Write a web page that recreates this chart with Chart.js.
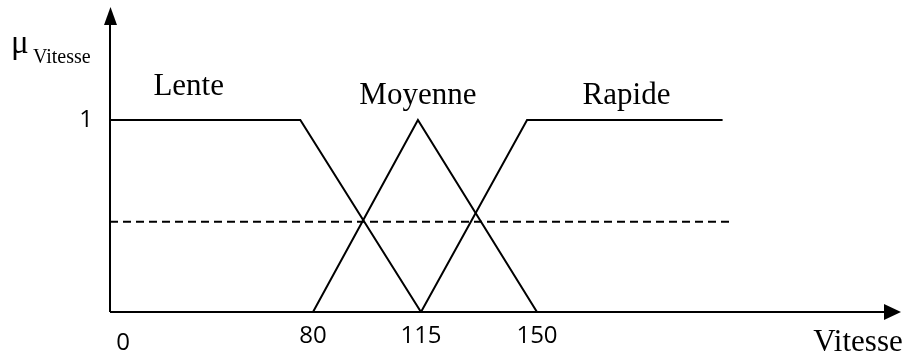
<!DOCTYPE html>
<html>
<head>
<meta charset="utf-8">
<script src="https://cdn.jsdelivr.net/npm/chart.js@4.4.1/dist/chart.umd.min.js"></script>
<style>
  html, body { margin: 0; padding: 0; background: #fff; }
  canvas { display: block; }
</style>
</head>
<body>
<canvas id="graficoVitesse" width="909" height="359"></canvas>
<script>
// Valeurs (fonctions d'appartenance de la vitesse)
const xTicks = [0, 80, 115, 150];
const yTicks = [1];
const setNames = ['Lente', 'Moyenne', 'Rapide'];

const lenteX = [0, 75, 115];
const lenteY = [1, 1, 0];
const moyenneX = [80, 114, 150];
const moyenneY = [0, 1, 0];
const rapideX = [115, 147, 206];
const rapideY = [0, 1, 1];
const seuilX = [0, 208];
const seuilY = [0.47, 0.47];

const zip = (xs, ys) => xs.map((x, i) => ({ x: x, y: ys[i] }));

// échelle "schéma" : la figure n'est pas à l'échelle, on interpole par morceaux
class SchemaScale extends Chart.LinearScale {
  _frac(v) {
    const b = this.options.breaks, f = this.options.fracs;
    if (v <= b[0]) return f[0];
    for (let i = 1; i < b.length; i++) {
      if (v <= b[i]) return f[i - 1] + (v - b[i - 1]) / (b[i] - b[i - 1]) * (f[i] - f[i - 1]);
    }
    return f[f.length - 1];
  }
  getPixelForValue(value) {
    return this.left + this._frac(value) * this.width;
  }
  getValueForPixel(pixel) {
    const b = this.options.breaks, f = this.options.fracs;
    const t = (pixel - this.left) / this.width;
    for (let i = 1; i < f.length; i++) {
      if (t <= f[i]) return b[i - 1] + (t - f[i - 1]) / (f[i] - f[i - 1]) * (b[i] - b[i - 1]);
    }
    return b[b.length - 1];
  }
}
SchemaScale.id = 'schema';
SchemaScale.defaults = Chart.LinearScale.defaults;
Chart.register(SchemaScale);

// axes avec flèches + textes
const decor = {
  id: 'decor',
  afterDraw(chart) {
    const ctx = chart.ctx;
    const a = chart.chartArea;
    const sx = chart.scales.x, sy = chart.scales.y;
    const y0 = sy.getPixelForValue(0);
    ctx.save();
    ctx.strokeStyle = '#000';
    ctx.fillStyle = '#000';
    ctx.lineWidth = 2;
    // axe vertical
    ctx.beginPath();
    ctx.moveTo(a.left, y0);
    ctx.lineTo(a.left, a.top);
    ctx.stroke();
    ctx.beginPath();
    ctx.moveTo(a.left + 0.5, 7);
    ctx.lineTo(a.left - 6, a.top + 1);
    ctx.lineTo(a.left + 7, a.top + 1);
    ctx.closePath();
    ctx.fill();
    // axe horizontal
    ctx.beginPath();
    ctx.moveTo(a.left, y0);
    ctx.lineTo(a.right, y0);
    ctx.stroke();
    ctx.beginPath();
    ctx.moveTo(a.right + 16, y0);
    ctx.lineTo(a.right - 1, y0 - 8);
    ctx.lineTo(a.right - 1, y0 + 8);
    ctx.closePath();
    ctx.fill();

    // graduations de l'axe des vitesses
    ctx.font = '24px "Open Sans"';
    ctx.textAlign = 'center';
    ctx.textBaseline = 'alphabetic';
    xTicks.forEach(v => {
      let px = sx.getPixelForValue(v), py = y0 + 31;
      if (v === 0) { px += 13; py += 7; }
      ctx.fillText(String(v), px, py);
    });

    // noms des ensembles
    const namePos = [[31, 1.13], [114, 1.083], [177, 1.083]];
    ctx.font = '31px "Liberation Serif"';
    setNames.forEach((n, i) => {
      ctx.fillText(n, sx.getPixelForValue(namePos[i][0]), sy.getPixelForValue(namePos[i][1]));
    });

    // titres des axes
    ctx.fillText('Vitesse', 858, 351);
    ctx.textAlign = 'left';
    ctx.font = '33px "Liberation Serif"';
    ctx.fillText('\u03BC', 11, 53);
    ctx.font = '20px "Liberation Serif"';
    ctx.fillText('Vitesse', 33, 63);
    ctx.restore();
  }
};

const ligne = {
  borderColor: '#000',
  borderWidth: 2,
  pointRadius: 0,
  tension: 0,
  fill: false
};

new Chart(document.getElementById('graficoVitesse'), {
  type: 'line',
  data: {
    datasets: [
      Object.assign({ label: setNames[0], data: zip(lenteX, lenteY) }, ligne),
      Object.assign({ label: setNames[1], data: zip(moyenneX, moyenneY) }, ligne),
      Object.assign({ label: setNames[2], data: zip(rapideX, rapideY) }, ligne),
      Object.assign({ label: 'seuil', data: zip(seuilX, seuilY) }, ligne, { borderWidth: 2, borderDash: [8, 5] })
    ]
  },
  options: {
    responsive: false,
    animation: false,
    events: [],
    layout: {
      padding: { top: 24, right: 24, bottom: 47, left: 0 }
    },
    plugins: {
      legend: { display: false },
      tooltip: { enabled: false }
    },
    scales: {
      x: {
        type: 'schema',
        display: false,
        min: 0,
        max: 255,
        breaks: [0, 80, 115, 150, 255],
        fracs: [0, 203 / 775, 311 / 775, 427 / 775, 1]
      },
      y: {
        type: 'linear',
        min: 0,
        max: 1.5,
        afterFit: (scale) => {
          scale.width = 110;
          scale.paddingTop = 0;
          scale.paddingBottom = 0;
        },
        afterBuildTicks: (scale) => { scale.ticks = yTicks.map(v => ({ value: v })); },
        grid: { display: false, drawTicks: false },
        border: { display: false },
        ticks: {
          color: '#000',
          padding: 17,
          font: { family: 'Open Sans', size: 24 }
        }
      }
    }
  },
  plugins: [decor]
});
</script>
</body>
</html>
